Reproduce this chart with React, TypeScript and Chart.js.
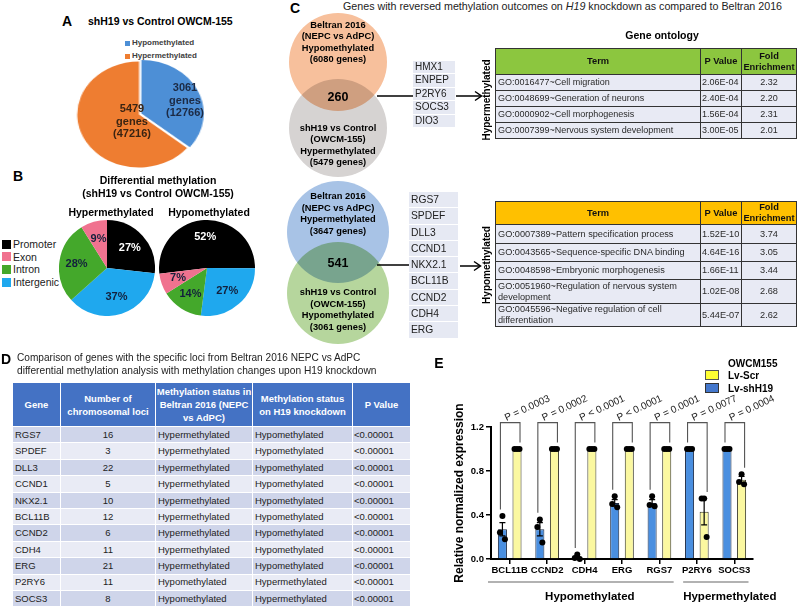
import React, { useEffect, useRef } from "react";
import { Chart, registerables } from "chart.js";
Chart.register(...registerables);

const FONT = '"Liberation Sans", Arial, Helvetica, sans-serif';

// ---------- Panel A ----------
const aCategories = ["Hypomethylated", "Hypermethylated"];
const aGeneCounts = [3061, 5479];
const aLociCounts = [12766, 47216];
const aColors = ["#4d8fd6", "#ee7d31"];

// ---------- Panel B ----------
const bRegions = ["Promoter", "Exon", "Intron", "Intergenic"];
const bColors = ["#000000", "#f0728f", "#44a82b", "#1fa8ee"];
const bHyperPct = [27, 9, 28, 37];
const bHypoPct = [52, 7, 14, 27];
const bDrawOrder = [0, 3, 2, 1];

// ---------- Panel C ----------
const cTitleA = "Genes with reversed methylation outcomes on ";
const cTitleGene = "H19";
const cTitleB = " knockdown as compared to Beltran 2016";
const cUpperTopText = ["Beltran 2016", "(NEPC vs AdPC)", "Hypomethylated", "(6080 genes)"];
const cUpperBottomText = ["shH19 vs Control", "(OWCM-155)", "Hypermethylated", "(5479 genes)"];
const cUpperOverlap = 260;
const cUpperGenes = ["HMX1", "ENPEP", "P2RY6", "SOCS3", "DIO3"];
const cLowerTopText = ["Beltran 2016", "(NEPC vs AdPC)", "Hypermethylated", "(3647 genes)"];
const cLowerBottomText = ["shH19 vs Control", "(OWCM-155)", "Hypomethylated", "(3061 genes)"];
const cLowerOverlap = 541;
const cLowerGenes = ["RGS7", "SPDEF", "DLL3", "CCND1", "NKX2.1", "BCL11B", "CCND2", "CDH4", "ERG"];
const goHeaders = ["Term", "P Value", "Fold\nEnrichment"];
const goHyperTerms = [
  "GO:0016477~Cell migration",
  "GO:0048699~Generation of neurons",
  "GO:0000902~Cell morphogenesis",
  "GO:0007399~Nervous system development",
];
const goHyperP = ["2.06E-04", "2.40E-04", "1.56E-04", "3.00E-05"];
const goHyperFold = ["2.32", "2.20", "2.31", "2.01"];
const goHypoTerms = [
  "GO:0007389~Pattern specification process",
  "GO:0043565~Sequence-specific DNA binding",
  "GO:0048598~Embryonic morphogenesis",
  "GO:0051960~Regulation of nervous system\ndevelopment",
  "GO:0045596~Negative regulation of cell\ndifferentiation",
];
const goHypoP = ["1.52E-10", "4.64E-16", "1.66E-11", "1.02E-08", "5.44E-07"];
const goHypoFold = ["3.74", "3.05", "3.44", "2.68", "2.62"];

// ---------- Panel D ----------
const dTitle1 = "Comparison of genes with the specific loci from Beltran 2016 NEPC vs AdPC";
const dTitle2 = "differential methylation analysis with methylation changes upon H19 knockdown";
const dHeaders = ["Gene", "Number of\nchromosomal loci", "Methylation status in\nBeltran 2016 (NEPC\nvs AdPC)", "Methylation status\non H19 knockdown", "P Value"];
const dGenes = ["RGS7", "SPDEF", "DLL3", "CCND1", "NKX2.1", "BCL11B", "CCND2", "CDH4", "ERG", "P2RY6", "SOCS3"];
const dLoci = [16, 3, 22, 5, 10, 12, 6, 11, 21, 11, 8];
const dBeltran = ["Hypermethylated", "Hypermethylated", "Hypermethylated", "Hypermethylated", "Hypermethylated", "Hypermethylated", "Hypermethylated", "Hypermethylated", "Hypermethylated", "Hypomethylated", "Hypomethylated"];
const dKnockdown = ["Hypomethylated", "Hypomethylated", "Hypomethylated", "Hypomethylated", "Hypomethylated", "Hypomethylated", "Hypomethylated", "Hypomethylated", "Hypomethylated", "Hypermethylated", "Hypermethylated"];
const dPValues = ["<0.00001", "<0.00001", "<0.00001", "<0.00001", "<0.00001", "<0.00001", "<0.00001", "<0.00001", "<0.00001", "<0.00001", "<0.00001"];

// ---------- Panel E ----------
const eGenes = ["BCL11B", "CCND2", "CDH4", "ERG", "RGS7", "P2RY6", "SOCS3"];
const eShH19 = [0.27, 0.27, 0.01, 0.51, 0.51, 1.0, 1.0];
const eScr = [1.0, 1.0, 1.0, 1.0, 1.0, 0.43, 0.72];
const eShH19Sem = [0.06, 0.06, 0.01, 0.03, 0.03, 0, 0];
const eScrSem = [0, 0, 0, 0, 0, 0.12, 0.03];
const eShH19Pts = [[0.39, 0.24, 0.18], [0.36, 0.29, 0.15], [0.04, 0.01, 0.0], [0.57, 0.5, 0.47], [0.57, 0.49, 0.48], [1, 1, 1], [1, 1, 1]];
const eScrPts = [[1, 1, 1], [1, 1, 1], [1, 1, 1], [1, 1, 1], [1, 1, 1], [0.55, 0.55, 0.2], [0.77, 0.7, 0.68]];
const ePValues = ["P = 0.0003", "P = 0.0002", "P < 0.0001", "P < 0.0001", "P = 0.0001", "P = 0.0077", "P = 0.0004"];
const eBracketLevel = 1.24;
const eGroups = ["Hypomethylated", "Hypermethylated"];
const eGroupSpans = [[0, 4], [5, 6]];
const eLegendTitle = "OWCM155";
const eSeriesNames = ["Lv-shH19", "Lv-Scr"];

// ---------- helpers ----------
type TxtProps = { x: number; y: number; size?: number; bold?: boolean; italic?: boolean; align?: "left" | "center"; color?: string; lh?: number; rotate?: number; children: React.ReactNode };
function Txt({ x, y, size = 10, bold = false, italic = false, align = "center", color = "#000", lh, rotate, children }: TxtProps) {
  const tr = (align === "center" ? "translate(-50%,-50%)" : "translate(0,-50%)") + (rotate ? ` rotate(${rotate}deg)` : "");
  return (
    <div style={{ position: "absolute", left: x, top: y, transform: tr, fontFamily: FONT, fontSize: size, fontWeight: bold ? "bold" : "normal", fontStyle: italic ? "italic" : "normal", color, whiteSpace: "pre", lineHeight: lh ? `${lh}px` : 1, textAlign: align }}>
      {children}
    </div>
  );
}

type PieProps = { left: number; top: number; size: number; cssWidth?: number; values: number[]; colors: string[]; rotation?: number; offsets?: number[]; labels?: string[]; labelColors?: string[]; labelFrac?: number };
function PieCanvas(p: PieProps) {
  const ref = useRef<HTMLCanvasElement>(null);
  useEffect(() => {
    const labelPlugin = {
      id: "sliceLabels",
      afterDatasetsDraw(chart: any) {
        if (!p.labels) return;
        const ctx = chart.ctx;
        const meta = chart.getDatasetMeta(0);
        ctx.save();
        ctx.font = `bold 11px ${FONT}`;
        ctx.textAlign = "center";
        ctx.textBaseline = "middle";
        meta.data.forEach((arc: any, i: number) => {
          const { startAngle, endAngle, outerRadius, x, y } = arc.getProps(["startAngle", "endAngle", "outerRadius", "x", "y"], true);
          const mid = (startAngle + endAngle) / 2;
          const r = outerRadius * (p.labelFrac ?? 0.64);
          ctx.fillStyle = p.labelColors ? p.labelColors[i] : "#000";
          ctx.fillText(p.labels![i], x + Math.cos(mid) * r, y + Math.sin(mid) * r);
        });
        ctx.restore();
      },
    };
    const chart = new Chart(ref.current!, {
      type: "pie",
      data: {
        labels: p.values.map((_, i) => String(i)),
        datasets: [{ data: p.values, backgroundColor: p.colors, borderWidth: 0, offset: p.offsets || 0 } as any],
      },
      options: {
        responsive: false,
        animation: false,
        rotation: p.rotation || 0,
        plugins: { legend: { display: false }, tooltip: { enabled: false } },
      } as any,
      plugins: [labelPlugin],
    });
    return () => chart.destroy();
  }, []);
  return <canvas ref={ref} width={p.size} height={p.size} style={{ position: "absolute", left: p.left, top: p.top, width: p.cssWidth ?? p.size, height: p.size }} />;
}

function ExpressionChart() {
  const ref = useRef<HTMLCanvasElement>(null);
  useEffect(() => {
    const annot = {
      id: "annot",
      afterDatasetsDraw(chart: any) {
        const { ctx, scales } = chart;
        const xs = scales.x;
        const ys = scales.y;
        const m0 = chart.getDatasetMeta(0);
        const m1 = chart.getDatasetMeta(1);
        const jitter = [0, -2.5, 2.5];
        ctx.save();
        eGenes.forEach((_, i) => {
          const xb = m0.data[i].x;
          const xy = m1.data[i].x;
          const series: [number, number, number, number[]][] = [
            [xb, eShH19[i], eShH19Sem[i], eShH19Pts[i]],
            [xy, eScr[i], eScrSem[i], eScrPts[i]],
          ];
          ctx.strokeStyle = "#000";
          ctx.lineWidth = 1.2;
          series.forEach(([cx, v, s]) => {
            if (s <= 0) return;
            const y1 = ys.getPixelForValue(v - s);
            const y2 = ys.getPixelForValue(v + s);
            ctx.beginPath();
            ctx.moveTo(cx, y1); ctx.lineTo(cx, y2);
            ctx.moveTo(cx - 3, y1); ctx.lineTo(cx + 3, y1);
            ctx.moveTo(cx - 3, y2); ctx.lineTo(cx + 3, y2);
            ctx.stroke();
          });
          ctx.fillStyle = "#000";
          series.forEach(([cx, , , pts]) => {
            pts.forEach((pv, k) => {
              ctx.beginPath();
              ctx.arc(cx + jitter[k], ys.getPixelForValue(pv), 3, 0, Math.PI * 2);
              ctx.fill();
            });
          });
          // bracket
          const lEnd = Math.max(...eShH19Pts[i], eShH19[i] + eShH19Sem[i]) + 0.06;
          const rEnd = Math.max(...eScrPts[i], eScr[i] + eScrSem[i]) + 0.06;
          const xl = xb - 2;
          const xr = xy + 3;
          const yt = ys.getPixelForValue(eBracketLevel);
          ctx.strokeStyle = "#555";
          ctx.lineWidth = 1.1;
          ctx.beginPath();
          ctx.moveTo(xl, ys.getPixelForValue(lEnd));
          ctx.lineTo(xl, yt);
          ctx.lineTo(xr, yt);
          ctx.lineTo(xr, ys.getPixelForValue(rEnd));
          ctx.stroke();
          ctx.save();
          ctx.translate(xl + 6, yt - 1.5);
          ctx.rotate((-25 * Math.PI) / 180);
          ctx.font = `10px ${FONT}`;
          ctx.fillStyle = "#222";
          ctx.textAlign = "left";
          ctx.textBaseline = "alphabetic";
          ctx.fillText(ePValues[i], 0, 0);
          ctx.restore();
        });
        const bottom = chart.chartArea.bottom;
        const step = xs.getPixelForValue(1) - xs.getPixelForValue(0);
        const textShift = [9, 14];
        eGroupSpans.forEach(([a, b], k) => {
          const x1 = xs.getPixelForValue(a) - step * 0.5 + (k === 0 ? -3 : 5);
          const x2 = xs.getPixelForValue(b) + step * 0.38;
          ctx.strokeStyle = "#666";
          ctx.lineWidth = 1.2;
          ctx.beginPath();
          ctx.moveTo(x1, bottom + 23);
          ctx.lineTo(x2, bottom + 23);
          ctx.stroke();
          ctx.font = `bold 11.5px ${FONT}`;
          ctx.fillStyle = "#000";
          ctx.textAlign = "center";
          ctx.textBaseline = "middle";
          ctx.fillText(eGroups[k], (x1 + x2) / 2 + textShift[k], bottom + 38);
        });
        ctx.restore();
      },
    };
    const tickFont = { family: FONT, size: 9.5, weight: "bold" as const };
    const chart = new Chart(ref.current!, {
      type: "bar",
      data: {
        labels: eGenes,
        datasets: [
          { label: eSeriesNames[0], data: eShH19, backgroundColor: "#4a8fe0", borderColor: "#1d2b45", borderWidth: 1, categoryPercentage: 0.78, barPercentage: 0.62 },
          { label: eSeriesNames[1], data: eScr, backgroundColor: "#fbf8a0", borderColor: "#3a3a2a", borderWidth: 1, categoryPercentage: 0.78, barPercentage: 0.62 },
        ],
      },
      options: {
        responsive: false,
        animation: false,
        layout: { padding: { top: 47, right: 44, left: 0, bottom: 0 } },
        plugins: { legend: { display: false }, tooltip: { enabled: false } },
        scales: {
          x: {
            grid: { display: true, drawOnChartArea: false, offset: false, tickLength: 5, color: "#000", lineWidth: 1.5 },
            border: { display: true, color: "#000", width: 2 },
            ticks: { color: "#000", font: tickFont, maxRotation: 0, minRotation: 0, autoSkip: false, padding: 1 },
            afterFit: (s: any) => { s.height = 47; },
          },
          y: {
            min: 0,
            max: 1.2,
            grid: { drawOnChartArea: false, tickLength: 5, color: "#000", lineWidth: 1.5 },
            border: { display: true, color: "#000", width: 2 },
            ticks: { stepSize: 0.4, color: "#000", font: tickFont, padding: 2, callback: (v: any) => Number(v).toFixed(1) },
            title: { display: true, text: "Relative normalized expression", color: "#000", font: { family: FONT, size: 12, weight: "bold" }, padding: { top: 0, bottom: 2 } },
            afterFit: (s: any) => { s.width = 39; },
          },
        },
      } as any,
      plugins: [annot],
    });
    return () => chart.destroy();
  }, []);
  return <canvas ref={ref} width={345} height={226} style={{ position: "absolute", left: 452, top: 380, width: 345, height: 226 }} />;
}

function Circle({ cx, cy, r, color }: { cx: number; cy: number; r: number; color: string }) {
  return <div style={{ position: "absolute", left: cx - r, top: cy - r, width: 2 * r, height: 2 * r, borderRadius: "50%", background: color, mixBlendMode: "multiply" }} />;
}

function VennText({ lines, x, y0, step }: { lines: string[]; x: number; y0: number; step: number }) {
  return (
    <>
      {lines.map((l, i) => (
        <Txt key={i} x={x} y={y0 + i * step} size={9.3} bold>{l}</Txt>
      ))}
    </>
  );
}

function GeneList({ genes, left, top, width, rowH, size }: { genes: string[]; left: number; top: number; width: number; rowH: number; size: number }) {
  return (
    <div style={{ position: "absolute", left, top, width }}>
      {genes.map((g) => (
        <div key={g} style={{ height: rowH - 1, marginBottom: 1, background: "#e6e9f3", fontFamily: FONT, fontSize: size, color: "#222", lineHeight: `${rowH - 1}px`, paddingLeft: 2 }}>{g}</div>
      ))}
    </div>
  );
}

function GoTable({ top, headerBg, headerH, terms, pvals, folds, rowHs, bodySize }: { top: number; headerBg: string; headerH: number; terms: string[]; pvals: string[]; folds: string[]; rowHs: number[]; bodySize: number }) {
  const bd = "1px solid #333";
  const th: React.CSSProperties = { border: bd, background: headerBg, fontWeight: "bold", fontSize: 9.3, textAlign: "center", padding: 0, lineHeight: "11px", whiteSpace: "pre", color: "#111" };
  const td: React.CSSProperties = { border: bd, background: "#e8eaf4", fontSize: bodySize, padding: "0 0 0 2px", lineHeight: "11px", whiteSpace: "pre", color: "#2a2a2a" };
  return (
    <table style={{ position: "absolute", left: 495, top, width: 301, borderCollapse: "collapse", tableLayout: "fixed", fontFamily: FONT }}>
      <colgroup>
        <col style={{ width: 205 }} />
        <col style={{ width: 41 }} />
        <col style={{ width: 55 }} />
      </colgroup>
      <thead>
        <tr style={{ height: headerH }}>
          {goHeaders.map((h) => (
            <th key={h} style={th}>{h}</th>
          ))}
        </tr>
      </thead>
      <tbody>
        {terms.map((t, i) => (
          <tr key={t} style={{ height: rowHs[i] }}>
            <td style={td}>{t}</td>
            <td style={{ ...td, padding: "0 0 0 1px" }}>{pvals[i]}</td>
            <td style={{ ...td, textAlign: "center", padding: 0 }}>{folds[i]}</td>
          </tr>
        ))}
      </tbody>
    </table>
  );
}

function MethTable() {
  const colW = [48, 95, 97, 100, 58];
  const th: React.CSSProperties = { border: "1px solid #fff", background: "#4472c4", color: "#fff", fontWeight: "bold", fontSize: 9.5, textAlign: "center", padding: 0, lineHeight: "13px", whiteSpace: "pre" };
  const td: React.CSSProperties = { border: "1px solid #fff", fontSize: 9.5, color: "#222", padding: "0 0 0 2px", lineHeight: 1, whiteSpace: "nowrap" };
  return (
    <table style={{ position: "absolute", left: 12, top: 382, width: 398, borderCollapse: "collapse", tableLayout: "fixed", fontFamily: FONT }}>
      <colgroup>
        {colW.map((w, i) => (
          <col key={i} style={{ width: w }} />
        ))}
      </colgroup>
      <thead>
        <tr style={{ height: 44 }}>
          {dHeaders.map((h) => (
            <th key={h} style={th}>{h}</th>
          ))}
        </tr>
      </thead>
      <tbody>
        {dGenes.map((g, i) => {
          const bg = i % 2 === 0 ? "#cfd5ea" : "#e9ebf5";
          return (
            <tr key={g} style={{ height: 16.4, background: bg }}>
              <td style={td}>{g}</td>
              <td style={{ ...td, textAlign: "center", padding: 0 }}>{dLoci[i]}</td>
              <td style={td}>{dBeltran[i]}</td>
              <td style={td}>{dKnockdown[i]}</td>
              <td style={{ ...td, paddingLeft: 1 }}>{dPValues[i]}</td>
            </tr>
          );
        })}
      </tbody>
    </table>
  );
}

export default function App() {
  const bHyperVals = bDrawOrder.map((i) => bHyperPct[i]);
  const bHypoVals = bDrawOrder.map((i) => bHypoPct[i]);
  const bDrawColors = bDrawOrder.map((i) => bColors[i]);
  const bLabelColors = bDrawOrder.map((i) => (i === 0 ? "#ffffff" : "#13203c"));
  return (
    <div style={{ position: "absolute", left: 0, top: 0, width: 797, height: 606, overflow: "hidden", background: "#fff", fontFamily: FONT, isolation: "isolate" }}>
      {/* Panel A */}
      <Txt x={67} y={21} size={14} bold>A</Txt>
      <Txt x={88} y={21} size={10.5} bold align="left">shH19 vs Control OWCM-155</Txt>
      {aCategories.map((c, i) => (
        <React.Fragment key={c}>
          <div style={{ position: "absolute", left: 125, top: 40.5 + i * 13, width: 5, height: 5, background: aColors[i] }} />
          <Txt x={132} y={43 + i * 13} size={8} bold align="left" color="#404040">{c}</Txt>
        </React.Fragment>
      ))}
      <PieCanvas left={72} top={57} size={115} cssWidth={134} values={aGeneCounts} colors={aColors} offsets={[9, 0]} />
      <Txt x={185} y={100} size={11} bold lh={12.5} color="#1c2a44">{`${aGeneCounts[0]}\ngenes\n(${aLociCounts[0]})`}</Txt>
      <Txt x={132} y={121} size={11} bold lh={12.5} color="#3a2412">{`${aGeneCounts[1]}\ngenes\n(${aLociCounts[1]})`}</Txt>

      {/* Panel B */}
      <Txt x={18} y={176} size={14} bold>B</Txt>
      <Txt x={158} y={180} size={10.5} bold>Differential methylation</Txt>
      <Txt x={158} y={193} size={10.5} bold>(shH19 vs Control OWCM-155)</Txt>
      <Txt x={111} y={212} size={10.5} bold>Hypermethylated</Txt>
      <Txt x={209} y={212} size={10.5} bold>Hypomethylated</Txt>
      {bRegions.map((r, i) => (
        <React.Fragment key={r}>
          <div style={{ position: "absolute", left: 2, top: 239.5 + i * 12.7, width: 9, height: 9, background: bColors[i] }} />
          <Txt x={13} y={244 + i * 12.7} size={10.5} align="left" color="#222">{r}</Txt>
        </React.Fragment>
      ))}
      <PieCanvas left={59} top={220} size={96} values={bHyperVals} colors={bDrawColors} rotation={0} labels={bHyperVals.map((v) => `${v}%`)} labelColors={bLabelColors} />
      <PieCanvas left={159} top={220} size={96} values={bHypoVals} colors={bDrawColors} rotation={-97} labels={bHypoVals.map((v) => `${v}%`)} labelColors={bLabelColors} />

      {/* Panel C */}
      <Txt x={295} y={8} size={14} bold>C</Txt>
      <Txt x={343} y={5.5} size={10.7} align="left" color="#222">
        {cTitleA}
        <i>{cTitleGene}</i>
        {cTitleB}
      </Txt>
      <Circle cx={338} cy={62} r={49} color="#f7c09c" />
      <Circle cx={338} cy={128} r={49} color="#d6d3d2" />
      <VennText lines={cUpperTopText} x={338} y0={26} step={11.4} />
      <Txt x={338} y={97} size={12.5} bold>{String(cUpperOverlap)}</Txt>
      <VennText lines={cUpperBottomText} x={338} y0={129} step={11.4} />
      <Circle cx={338} cy={232} r={51} color="#a8c3e6" />
      <Circle cx={338} cy={293} r={51} color="#b6d69d" />
      <VennText lines={cLowerTopText} x={338} y0={197} step={11.6} />
      <Txt x={338} y={263} size={12.5} bold>{String(cLowerOverlap)}</Txt>
      <VennText lines={cLowerBottomText} x={338} y0={293} step={11.5} />
      <GeneList genes={cUpperGenes} left={413} top={60.5} width={42} rowH={13.5} size={10} />
      <GeneList genes={cLowerGenes} left={409} top={192} width={49} rowH={16.3} size={10.3} />
      <svg width={797} height={606} style={{ position: "absolute", left: 0, top: 0 }}>
        <g stroke="#000" strokeWidth={1.5} fill="none">
          <line x1={377} y1={96} x2={413} y2={96} />
          <line x1={456} y1={96} x2={481} y2={96} />
          <polyline points="475,91.5 481.5,96 475,100.5" />
          <line x1={377} y1={265} x2={409} y2={265} />
          <line x1={460} y1={266} x2={480} y2={266} />
          <polyline points="474,261.5 480.5,266 474,270.5" />
        </g>
      </svg>
      <Txt x={487} y={100} size={10} bold rotate={-90}>Hypermethylated</Txt>
      <Txt x={487} y={265} size={10} bold rotate={-90}>Hypomethylated</Txt>
      <Txt x={662} y={35} size={10.5} bold>Gene ontology</Txt>
      <GoTable top={48} headerBg="#8cc63f" headerH={26} terms={goHyperTerms} pvals={goHyperP} folds={goHyperFold} rowHs={[16, 16, 16, 16]} bodySize={9} />
      <GoTable top={201} headerBg="#ffc000" headerH={22} terms={goHypoTerms} pvals={goHypoP} folds={goHypoFold} rowHs={[19, 18, 18, 24, 22]} bodySize={9.2} />

      {/* Panel D */}
      <Txt x={6} y={359} size={14} bold>D</Txt>
      <Txt x={17} y={358} size={10.1} align="left" color="#222">{dTitle1}</Txt>
      <Txt x={17} y={370.5} size={10.2} align="left" color="#222">{dTitle2}</Txt>
      <MethTable />

      {/* Panel E */}
      <Txt x={439} y={363} size={14} bold>E</Txt>
      <Txt x={728} y={364} size={10} bold align="left">{eLegendTitle}</Txt>
      <div style={{ position: "absolute", left: 705, top: 370, width: 14, height: 10, background: "#ffff33", border: "1px solid #555", boxSizing: "border-box" }} />
      <Txt x={728} y={375.5} size={10} bold align="left">{eSeriesNames[1]}</Txt>
      <div style={{ position: "absolute", left: 705, top: 383, width: 14, height: 10, background: "#4477cc", border: "1px solid #333", boxSizing: "border-box" }} />
      <Txt x={728} y={388.5} size={10} bold align="left">{eSeriesNames[0]}</Txt>
      <ExpressionChart />
    </div>
  );
}
